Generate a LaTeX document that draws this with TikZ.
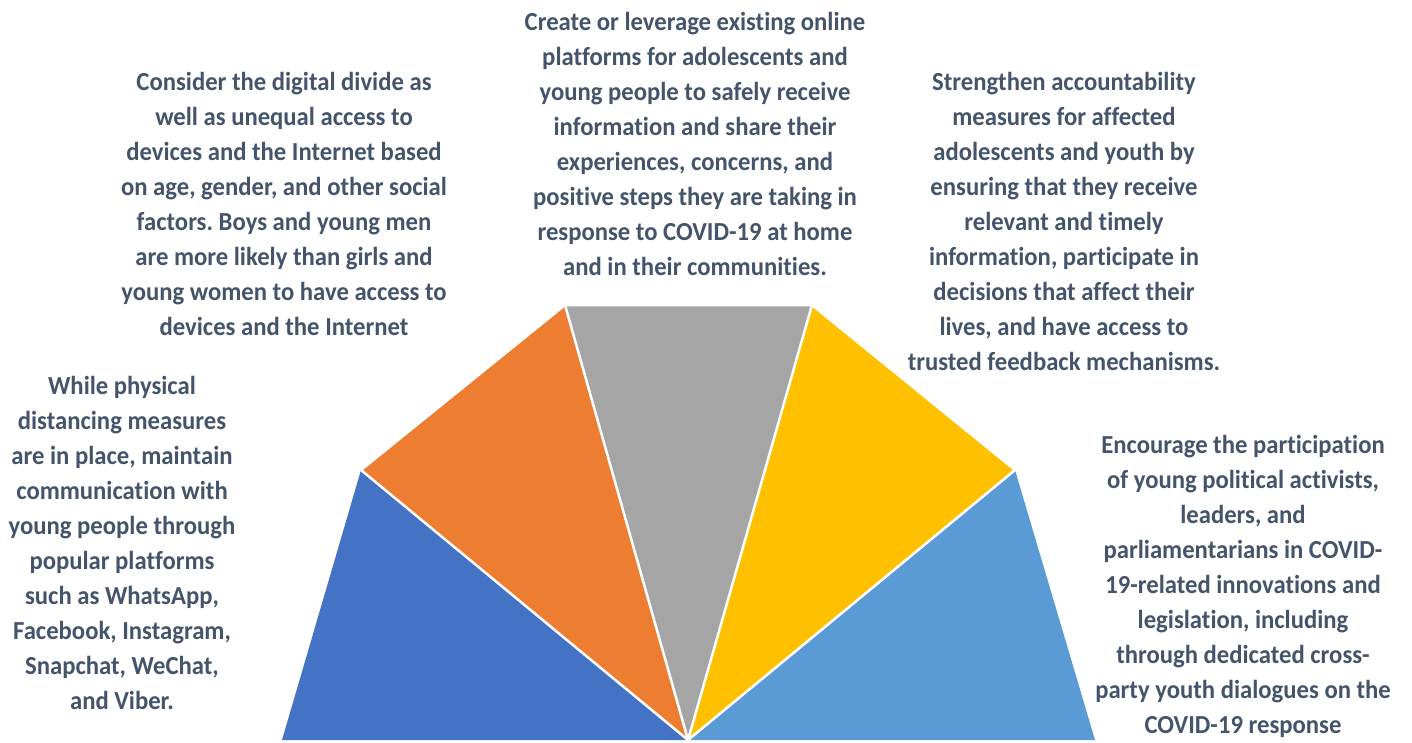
\documentclass[tikz,border=0pt]{standalone}
\usepackage{fontspec}
\setmainfont{Carlito}[FakeStretch=0.95,Ligatures={NoCommon,NoContextual},Contextuals=NoAlternate]
\frenchspacing
\definecolor{txt}{HTML}{44546A}
\definecolor{wblue}{HTML}{4472C4}
\definecolor{worange}{HTML}{ED7D31}
\definecolor{wgray}{HTML}{A5A5A5}
\definecolor{wyellow}{HTML}{FFC000}
\definecolor{wlblue}{HTML}{5B9BD5}
\begin{document}
\begin{tikzpicture}[x=1pt,y=-1pt,
  wedge/.style={draw=white,line width=2.5pt,line join=miter},
  lbl/.style={anchor=north,inner sep=0pt,align=center,text=txt,
    font=\fontsize{26}{35}\selectfont\bfseries}]
\useasboundingbox[fill=white] (0,0) rectangle (1412,742);
% fan vertices
\coordinate (A) at (688,740);
\coordinate (P1) at (282,740);
\coordinate (P2) at (361,470);
\coordinate (P3) at (565,305);
\coordinate (P4) at (812,305);
\coordinate (P5) at (1015,470);
\coordinate (P6) at (1095,740);
\fill[wblue]   (A) -- (P1) -- (P2) -- cycle;
\fill[worange] (A) -- (P2) -- (P3) -- cycle;
\fill[wgray]   (A) -- (P3) -- (P4) -- cycle;
\fill[wyellow] (A) -- (P4) -- (P5) -- cycle;
\fill[wlblue]  (A) -- (P5) -- (P6) -- cycle;
\draw[wedge] (A) -- (P2);
\draw[wedge] (A) -- (P3);
\draw[wedge] (A) -- (P4);
\draw[wedge] (A) -- (P5);
\draw[wedge] (P2) -- (P3) -- (P4) -- (P5);
% labels
\node[lbl] (t1) at (695,12) {Create or leverage existing online\\platforms for adolescents and\\young people to safely receive\\information and share their\\experiences, concerns, and\\positive steps they are taking in\\response to COVID-19 at home\\and in their communities.};
\node[lbl] (t2) at (284,72) {Consider the digital divide as\\well as unequal access to\\devices and the Internet based\\on age, gender, and other social\\factors. Boys and young men\\are more likely than girls and\\young women to have access to\\devices and the Internet};
\node[lbl] (t3) at (1064,72) {Strengthen accountability\\measures for affected\\adolescents and youth by\\ensuring that they receive\\relevant and timely\\information, participate in\\decisions that affect their\\lives, and have access to\\trusted feedback mechanisms.};
\node[lbl] (t4) at (122,376) {While physical\\distancing measures\\are in place, maintain\\communication with\\young people through\\popular platforms\\such as WhatsApp,\\Facebook, Instagram,\\Snapchat, WeChat,\\and Viber.};
\node[lbl] (t5) at (1243,435) {Encourage the participation\\of young political activists,\\leaders, and\\parliamentarians in COVID-\\19-related innovations and\\legislation, including\\through dedicated cross-\\party youth dialogues on the\\COVID-19 response};
\end{tikzpicture}
\end{document}
